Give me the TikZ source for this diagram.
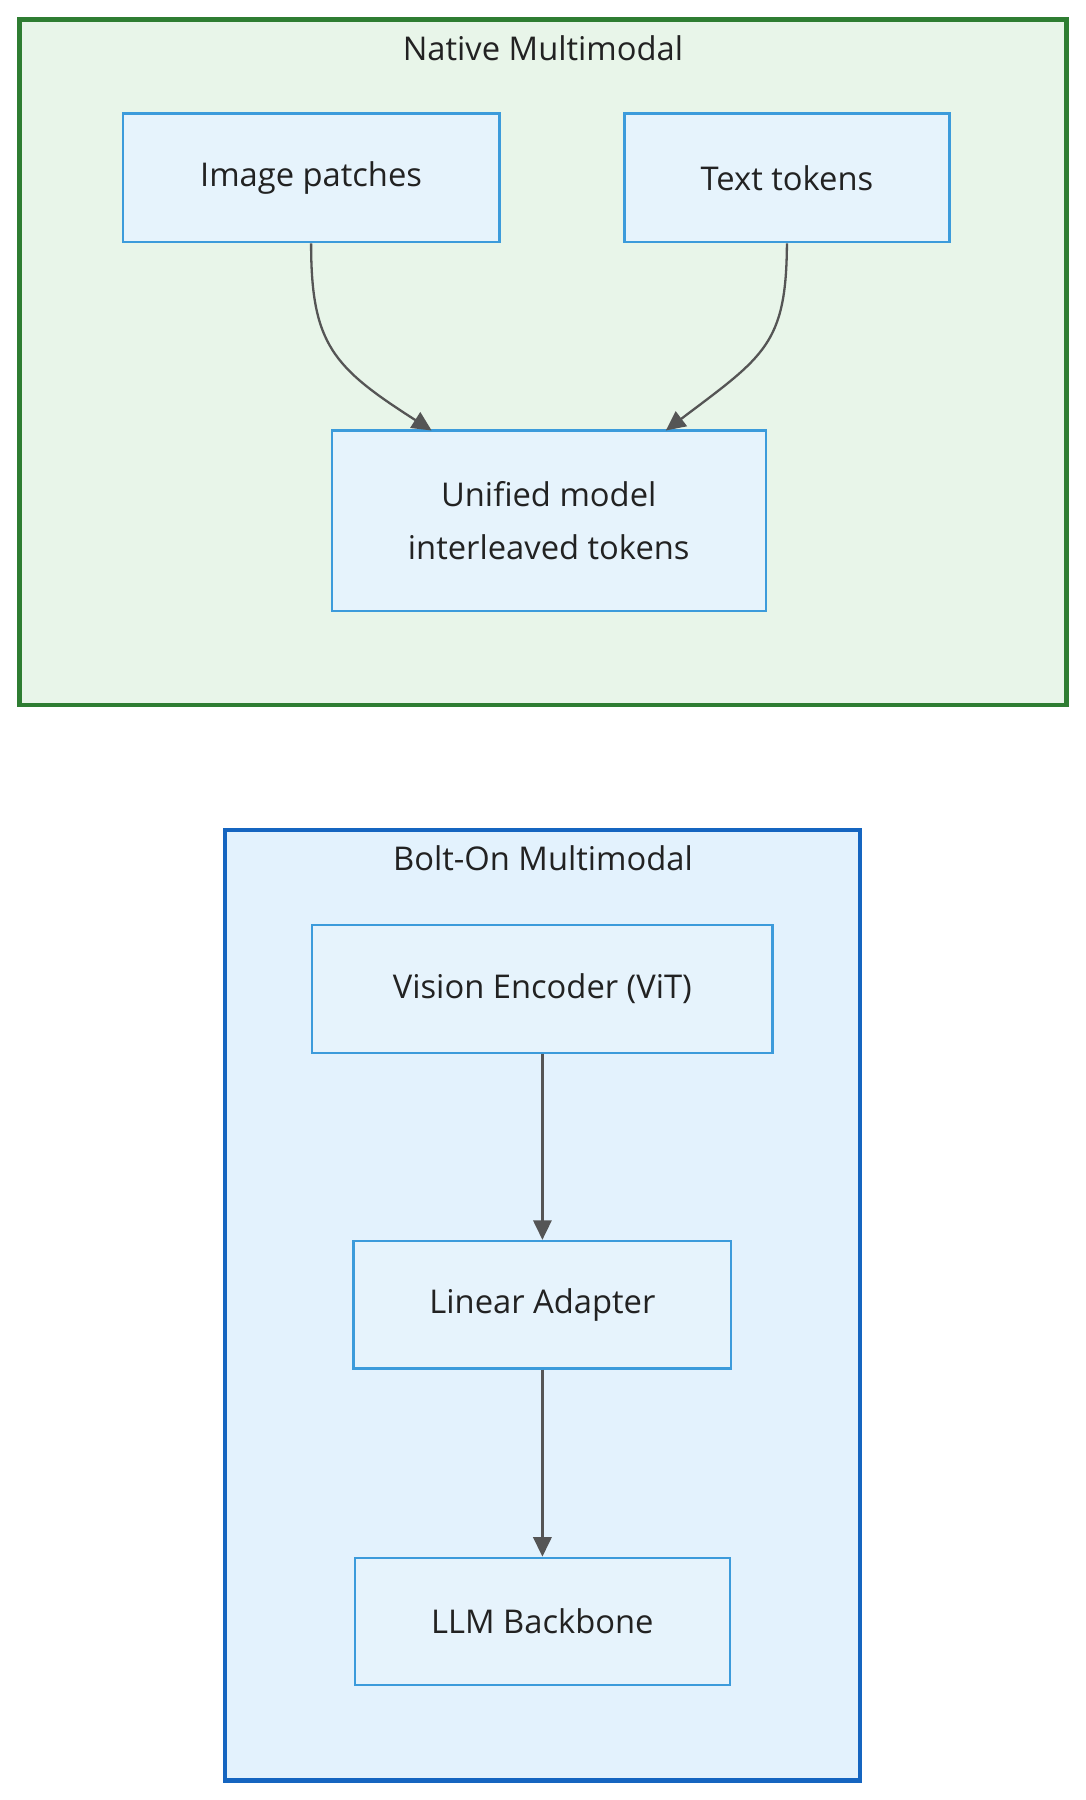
\documentclass[tikz,border=0pt]{standalone}
\usepackage{fontspec}
\setmainfont{Open Sans}
\usetikzlibrary{arrows.meta}
\definecolor{gfill}{HTML}{E8F5E9}
\definecolor{gdraw}{HTML}{2E7D32}
\definecolor{bfill}{HTML}{E3F2FD}
\definecolor{bdraw}{HTML}{1565C0}
\definecolor{nfill}{HTML}{E6F3FC}
\definecolor{ndraw}{HTML}{3C9BDB}
\definecolor{edge}{HTML}{555555}
\definecolor{txt}{HTML}{222222}
\tikzset{
  box/.style={draw=ndraw, fill=nfill, line width=2pt, text=txt, font=\fontsize{28.5}{46}\selectfont, align=center},
  title/.style={text=txt, font=\fontsize{28.5}{34}\selectfont},
  conn/.style={draw=edge, line width=2pt, -{Triangle[length=17pt,width=16pt]}}
}
\begin{document}
\begin{tikzpicture}[x=1pt,y=-1pt]
\useasboundingbox (0,0) rectangle (946,1568);
\draw[fill=gfill, draw=gdraw, line width=4pt] (17,17) rectangle (929,614);
\node[title] (t1) at (473,42) {Native Multimodal};
\draw[fill=bfill, draw=bdraw, line width=4pt] (196,723) rectangle (749,1551);
\node[title] (t2) at (473,748) {Bolt-On Multimodal};
\node[box, minimum width=328pt, minimum height=112pt] (ip) at (271,155) {Image patches};
\node[box, minimum width=283pt, minimum height=112pt] (tt) at (685.5,155) {Text tokens};
\node[box, minimum width=378pt, minimum height=157pt] (um) at (478,453.5) {Unified model\\interleaved tokens};
\node[box, minimum width=401pt, minimum height=111pt] (ve) at (472.5,861.5) {Vision Encoder (ViT)};
\node[box, minimum width=329pt, minimum height=111pt] (la) at (472.5,1136.5) {Linear Adapter};
\node[box, minimum width=327pt, minimum height=111pt] (ll) at (472.5,1412.5) {LLM Backbone};
\coordinate (e1) at (376,375);
\coordinate (e2) at (580,375);
\draw[conn] (ip.south) .. controls (271,300) and (290,320) .. (e1);
\draw[conn] (tt.south) .. controls (685,300) and (666,310) .. (e2);
\draw[conn] (ve.south) -- (la.north);
\draw[conn] (la.south) -- (ll.north);
\end{tikzpicture}
\end{document}
